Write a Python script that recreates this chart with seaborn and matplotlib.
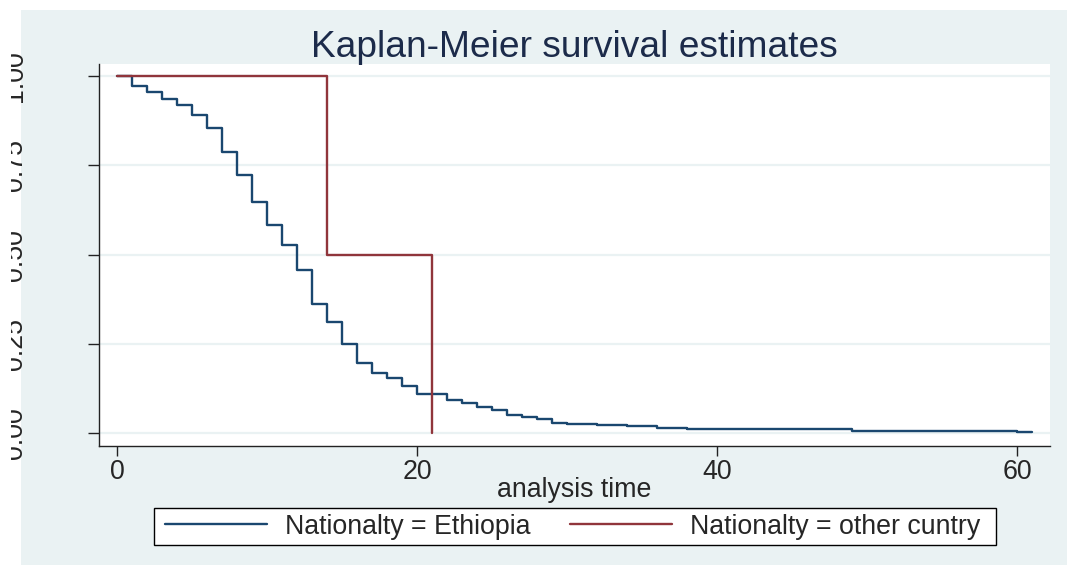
import matplotlib
matplotlib.use("Agg")
import matplotlib.pyplot as plt
import numpy as np
import pandas as pd
import seaborn as sns
from matplotlib.patches import Rectangle
from matplotlib.transforms import Bbox, TransformedBbox

# Kaplan-Meier step estimates by nationality
eth_time = [0, 1, 2, 3, 4, 5, 6, 7, 8, 9, 10, 11, 12, 13, 14, 15, 16, 17, 18,
            19, 20, 22, 23, 24, 25, 26, 27, 28, 29, 30, 32, 34, 35, 36, 38,
            49, 60, 61]
eth_surv = [1.000, 0.973, 0.955, 0.936, 0.918, 0.892, 0.854, 0.788, 0.722,
            0.648, 0.583, 0.527, 0.457, 0.363, 0.312, 0.251, 0.198, 0.168,
            0.154, 0.132, 0.109, 0.092, 0.084, 0.073, 0.064, 0.050, 0.046,
            0.039, 0.030, 0.027, 0.024, 0.021, 0.0196, 0.016, 0.012, 0.0073,
            0.0036, 0.0036]
oth_time = [0, 14, 21]
oth_surv = [1.0, 0.5, 0.0]

groups = ["Nationalty = Ethiopia", "Nationalty = other cuntry"]
x_ticks = [0, 20, 40, 60]
y_ticks = [0.0, 0.25, 0.5, 0.75, 1.0]
y_tick_labels = ["0.00", "0.25", "0.50", "0.75", "1.00"]

df = pd.concat([
    pd.DataFrame({"time": eth_time, "survival": eth_surv, "group": groups[0]}),
    pd.DataFrame({"time": oth_time, "survival": oth_surv, "group": groups[1]}),
], ignore_index=True)

navy = "#1A476F"
maroon = "#90353B"
bg = "#EAF2F3"
W, H = 1067, 567
FS = 19.3

sns.set_style("white")
plt.rcParams["font.family"] = ["Liberation Sans", "DejaVu Sans"]

fig = plt.figure(figsize=(W / 100, H / 100), dpi=100)
fig.patch.set_facecolor("white")
# light graph region behind the plot area
fig.patches.append(Rectangle((21 / W, 1 - 565 / H), (W - 21) / W, (565 - 10) / H,
                             transform=fig.transFigure, facecolor=bg,
                             edgecolor="none", zorder=-10))
# legend box; the keys are laid out inside it by the axes legend
fig.patches.append(Rectangle((154 / W, 1 - 545 / H), (995.5 - 154) / W, 37 / H,
                             transform=fig.transFigure, facecolor="white",
                             edgecolor="black", linewidth=1.0, zorder=-5))

ax = fig.add_axes([99 / W, 1 - 446 / H, (1050 - 99) / W, (446 - 64) / H])
ax.set_facecolor("white")

sns.lineplot(data=df, x="time", y="survival", hue="group", hue_order=groups,
             palette=[navy, maroon], drawstyle="steps-post", estimator=None,
             sort=False, linewidth=1.7, legend=False, ax=ax)

ax.set_xlim(-1.2, 62.2)
ax.set_ylim(-0.0355, 1.034)
ax.set_xticks(x_ticks)
ax.set_xticklabels([str(v) for v in x_ticks], fontsize=FS)
ax.set_yticks(y_ticks)
ax.set_yticklabels(y_tick_labels, fontsize=FS, rotation=90, va="center")

ax.yaxis.grid(True, color=bg, linewidth=1.6)
ax.xaxis.grid(False)
ax.set_axisbelow(True)

for side in ["top", "right"]:
    ax.spines[side].set_visible(False)
for side in ["left", "bottom"]:
    ax.spines[side].set_color("#222222")
    ax.spines[side].set_linewidth(1.0)

ax.tick_params(axis="y", length=8, width=1.0, color="#222222", pad=43,
               left=True)
ax.tick_params(axis="x", length=7.5, width=1.0, color="#222222", pad=2,
               bottom=True)

clip = TransformedBbox(Bbox.from_extents(11 / W, 0, 1, 1), fig.transFigure)
for lab in ax.get_yticklabels():
    lab.set_clip_box(clip)
    lab.set_clip_on(True)

ax.set_ylabel("")
ax.set_xlabel("analysis time", fontsize=FS)
ax.xaxis.set_label_coords(0.5, -0.080)
ax.xaxis.label.set_va("top")

ax.set_title("Kaplan-Meier survival estimates", fontsize=26.7,
             color="#1C2B4A", pad=5)

handles = ax.get_lines()[:2]
leg = ax.legend(handles, groups, ncol=2, mode="expand", loc="center",
                bbox_to_anchor=(165 / W, 1 - 545 / H, (980 - 165) / W, 37 / H),
                bbox_transform=fig.transFigure, fontsize=FS, frameon=False,
                borderpad=0, handlelength=3.8, handletextpad=0.66,
                borderaxespad=0)

fig.savefig("out.png", dpi=100)
